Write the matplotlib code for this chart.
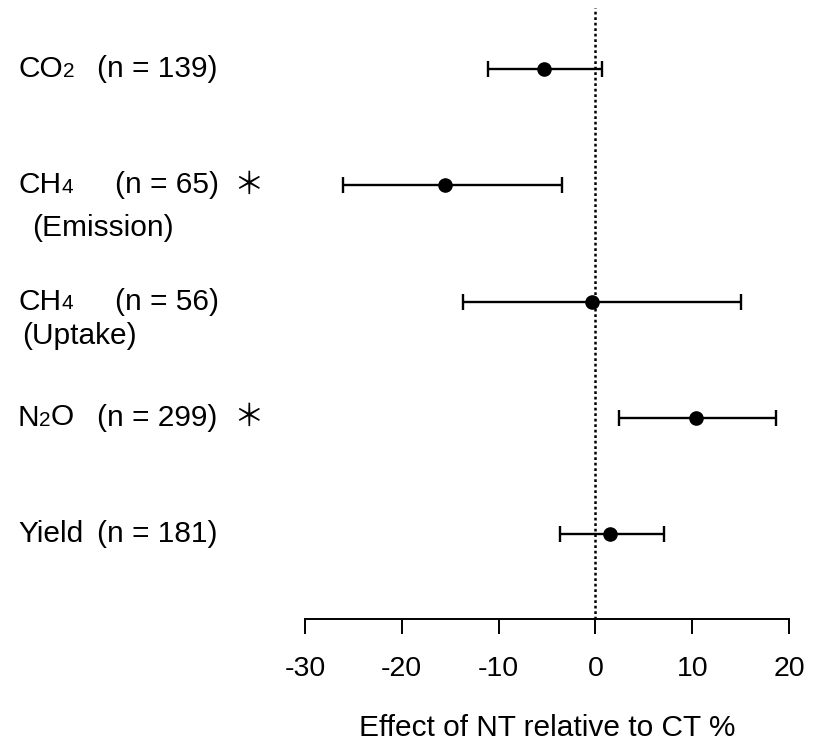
import numpy as np
import matplotlib
matplotlib.use("Agg")
import matplotlib.pyplot as plt
from matplotlib.transforms import blended_transform_factory

plt.rcParams['font.family'] = ['Liberation Sans', 'DejaVu Sans']

# data (effect of NT relative to CT, %)
gases = ['CO', 'CH', 'CH', 'N', 'Yield']
subs = ['2', '4', '4', '2O', '']
notes = ['', '(Emission)', '(Uptake)', '', '']
counts = ['(n = 139)', '(n = 65)', '(n = 56)', '(n = 299)', '(n = 181)']
signif = [False, True, False, True, False]
effect = [-5.3, -15.5, -0.3, 10.4, 1.5]
ci_low = [-11.1, -26.1, -13.7, 2.45, -3.7]
ci_high = [0.7, -3.5, 15.0, 18.7, 7.1]
xticks = [-30, -20, -10, 0, 10, 20]

fig = plt.figure(figsize=(8.16, 7.42), dpi=100)
ax = fig.add_axes([305/816, 1 - 619/742, 484/816, 611/742])

ypos = np.arange(len(gases), 0, -1)
eff = np.array(effect)
lo = eff - np.array(ci_low)
hi = np.array(ci_high) - eff

ax.axvline(0, color='black', lw=1.8, ls=(0, (1.1, 1.1)), zorder=1)
ax.errorbar(eff, ypos, xerr=[lo, hi], fmt='o', color='black', ms=9.5,
            elinewidth=1.7, capsize=5.5, capthick=1.7, zorder=3)

ax.set_xlim(-30, 20)
ax.set_ylim(1 - 85/116.25, 5 + 61/116.25)
for s in ['top', 'right', 'left']:
    ax.spines[s].set_visible(False)
ax.spines['bottom'].set_linewidth(1.4)
ax.spines['bottom'].set_bounds(-30, 20)
ax.set_yticks([])
ax.set_xticks(xticks)
ax.set_xticklabels([str(t) for t in xticks])
ax.tick_params(axis='x', length=11, width=1.4, labelsize=20.5, pad=16)
ax.set_xlabel('Effect of NT relative to CT %', fontsize=21.5, labelpad=23)

# row labels on the left, in figure x / data y
tr = blended_transform_factory(fig.transFigure, ax.transData)
fs = 21.5
sfs = 15
for i, y in enumerate(ypos):
    t = ax.text(18/816, y, gases[i], transform=tr, fontsize=fs,
                ha='left', va='center', clip_on=False)
    if subs[i]:
        sub = subs[i]
        s1 = ax.annotate(sub[0], xy=(1, 0.08), xycoords=t, fontsize=sfs,
                         ha='left', va='bottom')
        if sub.endswith('O'):
            ax.annotate('O', xy=(1, -0.08), xycoords=s1, fontsize=fs,
                        ha='left', va='bottom')
    nx = 115 if notes[i] else 97
    ax.text(nx/816, y, counts[i], transform=tr, fontsize=fs,
            ha='left', va='center', clip_on=False)
    if signif[i]:
        ax.text(248/816, y, '\uff0a', transform=tr, fontsize=22,
                family='Noto Sans CJK JP', ha='center', va='center')
    if notes[i]:
        if notes[i] == '(Emission)':
            nx2, dy = 32, 0.37
        else:
            nx2, dy = 22, 0.30
        ax.text(nx2/816, y - dy, notes[i], transform=tr, fontsize=fs,
                ha='left', va='center', clip_on=False)

fig.savefig('out.png', dpi=100)
